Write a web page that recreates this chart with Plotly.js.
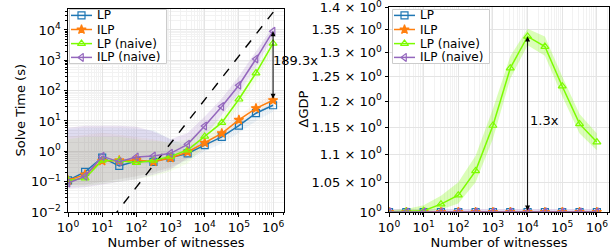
<!DOCTYPE html>
<html>
<head>
<meta charset="utf-8">
<script src="https://cdn.plot.ly/plotly-3.0.1.min.js"></script>
<style>html,body{margin:0;padding:0;background:#fff;}#chart{width:616px;height:252px;}</style>
</head>
<body>
<div id="chart"></div>
<script>
// ---- data ----
const witnesses = [1, 3.162, 10, 31.62, 100, 316.2, 1000, 3162, 1e4, 3.162e4, 1e5, 3.162e5, 1e6];
const seriesNames = ["LP", "ILP", "LP (naive)", "ILP (naive)"];

// Solve time (s), left panel
const timeLP       = [0.11, 0.21, 0.62, 0.33, 0.48, 0.45, 0.62, 0.85, 1.6, 3.0, 7.0, 18, 33];
const timeILP      = [0.11, 0.17, 0.48, 0.50, 0.52, 0.45, 0.60, 0.95, 1.9, 3.9, 10.8, 26, 48];
const timeLPNaive  = [0.11, 0.13, 0.50, 0.50, 0.42, 0.50, 0.68, 1.10, 3.1, 8.8, 52, 380, 3600];
const timeILPNaive = [0.09, 0.15, 0.68, 0.45, 0.65, 0.70, 0.86, 1.70, 6.8, 30, 150, 1100, 9086];

// spread of individual runs (upper / lower envelopes)
const timeLPHi       = [5.5, 6, 6, 6, 5.5, 5, 2.5, 1.5, 2.2, 4, 9, 22, 38];
const timeLPLo       = [0.08, 0.08, 0.1, 0.12, 0.15, 0.2, 0.3, 0.5, 1.0, 1.8, 4, 10, 20];
const timeILPHi      = [3, 3.5, 4, 3.5, 3, 2.5, 1.8, 1.5, 2.8, 6, 15, 40, 70];
const timeILPLo      = [0.08, 0.08, 0.1, 0.12, 0.15, 0.2, 0.3, 0.55, 1.2, 2.5, 7, 16, 32];
const timeLPNaiveHi  = [2.5, 3, 3, 3, 2.5, 2.2, 2, 2.5, 5, 14, 80, 600, 4500];
const timeLPNaiveLo  = [0.07, 0.07, 0.08, 0.1, 0.12, 0.15, 0.22, 0.4, 1.5, 5, 30, 200, 2200];
const timeILPNaiveHi = [6, 7, 7, 7, 6.5, 4.5, 2.5, 4, 14, 55, 300, 2000, 13000];
const timeILPNaiveLo = [0.06, 0.065, 0.08, 0.1, 0.12, 0.17, 0.25, 0.6, 3, 15, 80, 600, 6000];

// reference (dashed) line endpoints
const refLineX = [20, 2e6];
const refLineY = [0.0065, 1.03e5];

// ΔGDP, right panel
const gdpLP       = [1, 1, 1, 1, 1, 1, 1, 1, 1, 1, 1, 1, 1];
const gdpILP      = [1, 1, 1, 1, 1, 1, 1, 1, 1, 1, 1, 1, 1];
const gdpLPNaive  = [1.0, 1.001, 1.002, 1.013, 1.028, 1.07, 1.153, 1.267, 1.335, 1.313, 1.23, 1.156, 1.122];
const gdpILPNaive = [1, 1, 1, 1, 1, 1, 1, 1, 1, 1, 1, 1, 1];
const gdpLPNaiveHi = [1.003, 1.005, 1.011, 1.027, 1.05, 1.097, 1.185, 1.292, 1.352, 1.335, 1.25, 1.175, 1.138];
const gdpLPNaiveLo = [1.0, 1.0, 1.0, 1.004, 1.014, 1.05, 1.128, 1.245, 1.316, 1.293, 1.21, 1.138, 1.107];
const gdpOthersHi  = [1.005, 1.005, 1.005, 1.005, 1.005, 1.005, 1.005, 1.005, 1.005, 1.005, 1.005, 1.005, 1.005];
const gdpOthersLo  = [1, 1, 1, 1, 1, 1, 1, 1, 1, 1, 1, 1, 1];

// texts
const xTitle = "Number of witnesses";
const yTimeTitle = "Solve Time (s)";
const yGdpTitle = "\u0394GDP";
const ratioTimeLabel = "189.3x";
const ratioGdpLabel = "1.3x";

// tick labels
const xTickVals = [1, 10, 100, 1000, 1e4, 1e5, 1e6];
const xTickText = ["10<sup>0</sup>", "10<sup>1</sup>", "10<sup>2</sup>", "10<sup>3</sup>", "10<sup>4</sup>", "10<sup>5</sup>", "10<sup>6</sup>"];
const yTimeTickVals = [0.01, 0.1, 1, 10, 100, 1000, 1e4];
const yTimeTickText = ["10<sup>\u22122</sup>", "10<sup>\u22121</sup>", "10<sup>0</sup>", "10<sup>1</sup>", "10<sup>2</sup>", "10<sup>3</sup>", "10<sup>4</sup>"];
const yGdpTickVals = [1.0, 1.05, 1.1, 1.15, 1.2, 1.25, 1.3, 1.35, 1.4];
const yGdpTickText = ["10<sup>0</sup>", "1.05 \u00d7 10<sup>0</sup>", "1.1 \u00d7 10<sup>0</sup>", "1.15 \u00d7 10<sup>0</sup>", "1.2 \u00d7 10<sup>0</sup>", "1.25 \u00d7 10<sup>0</sup>", "1.3 \u00d7 10<sup>0</sup>", "1.35 \u00d7 10<sup>0</sup>", "1.4 \u00d7 10<sup>0</sup>"];

// ---- styling ----
const colors = ["#1f77b4", "#ff7f0e", "#7cfc00", "#9467bd"];
const fills = ["rgba(31,119,180,0.07)", "rgba(255,127,14,0.06)", "rgba(124,252,0,0.08)", "rgba(148,103,189,0.17)"];
const symbols = ["square-open", "star", "triangle-up-open", "triangle-left-open"];
const sizes = [7, 7, 7, 7];
const FONT = "DejaVu Sans, Liberation Sans, sans-serif";

function band(x, hi, lo, fill, xa, ya) {
  return {
    x: x.concat(x.slice().reverse()),
    y: hi.concat(lo.slice().reverse()),
    type: "scatter", mode: "lines", fill: "toself", fillcolor: fill,
    line: {width: 0}, hoverinfo: "skip", showlegend: false, xaxis: xa, yaxis: ya
  };
}
function markerStyle(i) {
  return {symbol: symbols[i], size: sizes[i], color: colors[i], line: {color: colors[i], width: 1.2}};
}
function series(x, y, i, xa, ya) {
  return {
    x: x, y: y, type: "scatter", mode: "lines+markers", name: seriesNames[i],
    line: {color: colors[i], width: 1.5}, marker: markerStyle(i),
    xaxis: xa, yaxis: ya, showlegend: false, cliponaxis: true
  };
}

const timeSeries = [timeLP, timeILP, timeLPNaive, timeILPNaive];
const timeHi = [timeLPHi, timeILPHi, timeLPNaiveHi, timeILPNaiveHi];
const timeLo = [timeLPLo, timeILPLo, timeLPNaiveLo, timeILPNaiveLo];
const gdpSeries = [gdpLP, gdpILP, gdpLPNaive, gdpILPNaive];

const traces = [];
for (let i = 0; i < 4; i++) traces.push(band(witnesses, timeHi[i], timeLo[i], fills[i], "x", "y"));
traces.push({x: refLineX, y: refLineY, type: "scatter", mode: "lines",
  line: {color: "black", width: 1.4, dash: "dash"}, showlegend: false, hoverinfo: "skip", xaxis: "x", yaxis: "y"});
for (let i = 0; i < 4; i++) traces.push(series(witnesses, timeSeries[i], i, "x", "y"));

traces.push(band(witnesses, gdpOthersHi, gdpOthersLo, "rgba(148,103,189,0.25)", "x2", "y2"));
traces.push(band(witnesses, gdpLPNaiveHi, gdpLPNaiveLo, "rgba(124,252,0,0.28)", "x2", "y2"));
for (let i = 0; i < 4; i++) traces.push(series(witnesses, gdpSeries[i], i, "x2", "y2"));

// plot area: x 68..609 px, y 7..212 px
const PW = 541, PH = 205;
function px2x(p) { return (p - 68) / PW; }
function py2y(p) { return (212 - p) / PH; }

// ---- compact legends (matplotlib-like), drawn in small inset subplots ----
// inset coordinates are pixel-like units inside each legend box (width 98, height 55)
const legendRowsY = [48.6, 34.5, 20.4, 6.6];
const legendAxes = [["x3", "y3"], ["x4", "y4"]];
const annotations = [];
const shapes = [];
legendAxes.forEach(function (ax) {
  shapes.push({type: "rect", xref: ax[0], yref: ax[1], x0: 0.5, x1: 97.5, y0: 0.5, y1: 54.5,
    fillcolor: "rgba(255,255,255,0.9)", line: {color: "#cccccc", width: 1}, layer: "below"});
  for (let i = 0; i < 4; i++) {
    traces.push({x: [2, 23], y: [legendRowsY[i], legendRowsY[i]], type: "scatter", mode: "lines",
      line: {color: colors[i], width: 1.5}, showlegend: false, hoverinfo: "skip", xaxis: ax[0], yaxis: ax[1]});
    traces.push({x: [12.5], y: [legendRowsY[i]], type: "scatter", mode: "markers",
      marker: markerStyle(i), showlegend: false, hoverinfo: "skip", xaxis: ax[0], yaxis: ax[1]});
    annotations.push({xref: ax[0], yref: ax[1], x: 27, y: legendRowsY[i], text: seriesNames[i],
      showarrow: false, xanchor: "left", yanchor: "middle", borderpad: 0,
      font: {family: FONT, size: 12, color: "black"}});
  }
});

// axis titles placed like matplotlib
const titleFont = {family: FONT, size: 13, color: "black"};
annotations.push({xref: "paper", yref: "paper", x: px2x(20), y: py2y(110.5), text: yTimeTitle,
  textangle: -90, showarrow: false, xanchor: "center", yanchor: "middle", font: titleFont});
annotations.push({xref: "paper", yref: "paper", x: px2x(303), y: py2y(109.5), text: yGdpTitle,
  textangle: -90, showarrow: false, xanchor: "center", yanchor: "middle", font: titleFont});

// minor tick positions (2..9 within each decade)
const minorX = [];
for (let d = 0; d <= 6; d++) for (let m = 2; m <= 9; m++) minorX.push(m * Math.pow(10, d));
const minorY = [];
for (let d = -2; d <= 4; d++) for (let m = 2; m <= 9; m++) minorY.push(m * Math.pow(10, d));

const axisCommon = {
  type: "log", showline: true, mirror: true, linecolor: "black", linewidth: 1,
  ticks: "outside", ticklen: 3.5, tickcolor: "black", tickwidth: 1,
  showgrid: true, gridcolor: "#e4e4e4", gridwidth: 1, zeroline: false, automargin: false,
  ticklabeloverflow: "allow",
  tickfont: {family: FONT, size: 13, color: "black"}
};
const minorCommon = {ticks: "outside", ticklen: 2, tickcolor: "black", showgrid: true, gridcolor: "#f2f2f2"};
const hiddenAxis = {visible: false, showgrid: false, zeroline: false, fixedrange: true};

const layout = {
  width: 616, height: 252,
  margin: {l: 68, r: 7, t: 7, b: 40},
  paper_bgcolor: "white", plot_bgcolor: "white",
  font: {family: FONT, size: 13, color: "black"},
  showlegend: false,
  xaxis: Object.assign({}, axisCommon, {
    domain: [0, px2x(284)], range: [0, 6.32], anchor: "y",
    tickmode: "array", tickvals: xTickVals, ticktext: xTickText,
    minor: Object.assign({tickvals: minorX}, minorCommon),
    title: {text: xTitle, font: titleFont, standoff: 0}
  }),
  yaxis: Object.assign({}, axisCommon, {
    domain: [0, py2y(9)], range: [-2, 4.69], anchor: "x",
    tickmode: "array", tickvals: yTimeTickVals, ticktext: yTimeTickText,
    minor: Object.assign({tickvals: minorY}, minorCommon)
  }),
  xaxis2: Object.assign({}, axisCommon, {
    domain: [px2x(389), 1], range: [0, 6.35], anchor: "y2",
    tickmode: "array", tickvals: xTickVals, ticktext: xTickText,
    minor: Object.assign({tickvals: minorX}, minorCommon),
    title: {text: xTitle, font: titleFont, standoff: 0}
  }),
  yaxis2: Object.assign({}, axisCommon, {
    domain: [0, 1], range: [0, Math.log10(1.4) + 0.0004], anchor: "x2",
    tickmode: "array", tickvals: yGdpTickVals, ticktext: yGdpTickText
  }),
  xaxis3: Object.assign({}, hiddenAxis, {domain: [px2x(69), px2x(167)], range: [0, 98], anchor: "y3"}),
  yaxis3: Object.assign({}, hiddenAxis, {domain: [py2y(64), py2y(9)], range: [0, 55], anchor: "x3"}),
  xaxis4: Object.assign({}, hiddenAxis, {domain: [px2x(392), px2x(490)], range: [0, 98], anchor: "y4"}),
  yaxis4: Object.assign({}, hiddenAxis, {domain: [py2y(64), py2y(9)], range: [0, 55], anchor: "x4"}),
  shapes: shapes,
  annotations: annotations.concat([
    {xref: "x", yref: "y", axref: "x", ayref: "y",
     x: Math.log10(witnesses[12]), y: Math.log10(timeILPNaive[12]),
     ax: Math.log10(witnesses[12]), ay: Math.log10(timeILP[12]),
     text: "", showarrow: true, arrowhead: 2, arrowside: "end+start", arrowsize: 1, arrowwidth: 1, arrowcolor: "black", standoff: 0, startstandoff: 0},
    {xref: "x", yref: "y", x: 5.95, y: 3.0, text: ratioTimeLabel, showarrow: false,
     xanchor: "left", yanchor: "middle", font: titleFont},
    {xref: "x2", yref: "y2", axref: "x2", ayref: "y2",
     x: Math.log10(witnesses[8]), y: Math.log10(gdpLPNaive[8]),
     ax: Math.log10(witnesses[8]), ay: Math.log10(gdpLP[8]),
     text: "", showarrow: true, arrowhead: 2, arrowside: "end+start", arrowsize: 1, arrowwidth: 1, arrowcolor: "black", standoff: 0, startstandoff: 0},
    {xref: "x2", yref: "y2", x: 4.0, y: Math.log10(1.163), text: ratioGdpLabel, showarrow: false,
     xanchor: "left", yanchor: "middle", font: titleFont}
  ])
};

Plotly.newPlot("chart", traces, layout, {staticPlot: true, displayModeBar: false});
</script>
</body>
</html>
